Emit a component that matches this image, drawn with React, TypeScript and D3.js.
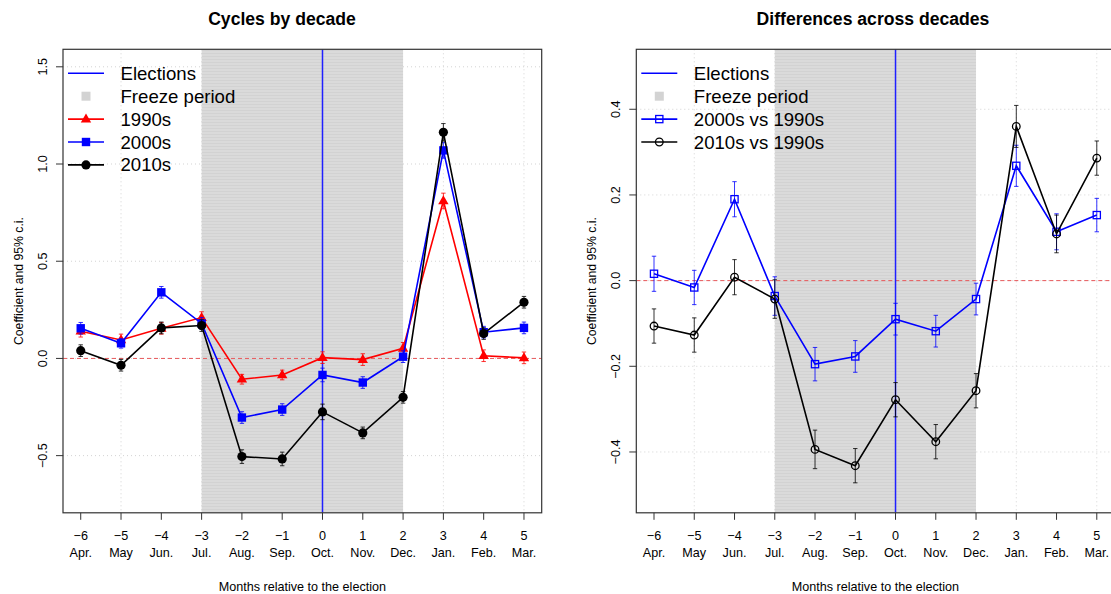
import React from "react";
import * as d3 from "d3";

// Months relative to the election and their calendar names
const months = [-6, -5, -4, -3, -2, -1, 0, 1, 2, 3, 4, 5];
const monthNames = ["Apr.", "May", "Jun.", "Jul.", "Aug.", "Sep.", "Oct.", "Nov.", "Dec.", "Jan.", "Feb.", "Mar."];

// Cycle coefficients by decade (left panel)
const coef1990s = [0.14, 0.095, 0.155, 0.21, -0.107, -0.085, 0.004, -0.006, 0.052, 0.81, 0.014, 0.003];
const ci1990s = [0.03, 0.03, 0.03, 0.03, 0.025, 0.025, 0.03, 0.03, 0.03, 0.04, 0.03, 0.03];
const coef2000s = [0.155, 0.078, 0.34, 0.18, -0.304, -0.263, -0.085, -0.124, 0.009, 1.07, 0.135, 0.157];
const ci2000s = [0.03, 0.025, 0.03, 0.03, 0.03, 0.03, 0.035, 0.03, 0.03, 0.04, 0.03, 0.03];
const coef2010s = [0.04, -0.035, 0.157, 0.169, -0.505, -0.517, -0.275, -0.383, -0.2, 1.163, 0.128, 0.289];
const ci2010s = [0.03, 0.03, 0.03, 0.03, 0.035, 0.035, 0.04, 0.03, 0.03, 0.045, 0.03, 0.03];

// Differences relative to the 1990s (right panel)
const diff2000s = [0.016, -0.016, 0.19, -0.036, -0.195, -0.177, -0.09, -0.118, -0.043, 0.268, 0.114, 0.153];
const ciDiff2000s = [0.041, 0.04, 0.041, 0.045, 0.039, 0.037, 0.037, 0.037, 0.037, 0.048, 0.042, 0.039];
const diff2010s = [-0.106, -0.127, 0.008, -0.043, -0.394, -0.432, -0.278, -0.376, -0.257, 0.36, 0.109, 0.286];
const ciDiff2010s = [0.04, 0.04, 0.041, 0.045, 0.045, 0.04, 0.04, 0.04, 0.04, 0.049, 0.044, 0.04];

const leftYTicks = [-0.5, 0, 0.5, 1.0, 1.5];
const rightYTicks = [-0.4, -0.2, 0, 0.2, 0.4];
const gridX = [-5, -3, -1, 1, 3, 5];
const freezeStart = -3;
const freezeEnd = 2;
const electionMonth = 0;

const FONT = "'Liberation Sans', Arial, Helvetica, sans-serif";
const fmt = (v: number) => d3.format(".1f")(v).replace("-", "\u2212");
const fmtInt = (v: number) => String(v).replace("-", "\u2212");

type Series = {
  values: number[];
  ci: number[];
  color: string;
  marker: "tri" | "sqFill" | "dot" | "sqOpen" | "ring";
  label: string;
};

function Marker({ kind, x, y, color }: { kind: Series["marker"]; x: number; y: number; color: string }) {
  switch (kind) {
    case "tri": {
      const s = 5.2;
      return <path d={`M${x},${y - s * 1.1}L${x + s},${y + s * 0.65}L${x - s},${y + s * 0.65}Z`} fill={color} />;
    }
    case "sqFill":
      return <rect x={x - 4.2} y={y - 4.2} width={8.4} height={8.4} fill={color} />;
    case "dot":
      return <circle cx={x} cy={y} r={4.6} fill={color} />;
    case "sqOpen":
      return <rect x={x - 3.6} y={y - 3.6} width={7.2} height={7.2} fill="none" stroke={color} strokeWidth={1.3} />;
    case "ring":
      return <circle cx={x} cy={y} r={3.8} fill="none" stroke={color} strokeWidth={1.3} />;
  }
}

type PanelProps = {
  id: string;
  left: number;
  right: number;
  yDomain: [number, number];
  yTicks: number[];
  title: string;
  titleX: number;
  yLabelX: number;
  yTickBaseline: number;
  series: Series[];
};

const TOP = 49.3;
const BOTTOM = 512.8;

function Panel(p: PanelProps) {
  const x = d3.scaleLinear().domain([-6.44, 5.44]).range([p.left, p.right]);
  const y = d3.scaleLinear().domain(p.yDomain).range([BOTTOM, TOP]);
  const line = d3
    .line<number>()
    .x((_, i) => x(months[i]))
    .y((v) => y(v));
  const clipId = `clip-${p.id}`;
  const midX = (p.left + p.right) / 2;
  const legendRows = [
    { kind: "line" as const, color: "#0000ff", label: "Elections" },
    { kind: "freeze" as const, color: "#d3d3d3", label: "Freeze period" },
    ...p.series.map((s) => ({ kind: "series" as const, color: s.color, label: s.label, marker: s.marker })),
  ];
  return (
    <g>
      <defs>
        <clipPath id={clipId}>
          <rect x={p.left} y={TOP} width={p.right - p.left} height={BOTTOM - TOP} />
        </clipPath>
      </defs>
      <text x={p.titleX} y={25} textAnchor="middle" fontFamily={FONT} fontWeight="bold" fontSize={17.6} fill="#000">
        {p.title}
      </text>

      <g clipPath={`url(#${clipId})`}>
        {/* dotted grid */}
        {gridX.map((g) => (
          <line key={`gx${g}`} x1={x(g)} x2={x(g)} y1={TOP} y2={BOTTOM} stroke="#d3d3d3" strokeDasharray="1,3" strokeWidth={1} />
        ))}
        {p.yTicks.map((t) => (
          <line key={`gy${t}`} x1={p.left} x2={p.right} y1={y(t)} y2={y(t)} stroke="#d3d3d3" strokeDasharray="1,3" strokeWidth={1} />
        ))}
        {/* freeze period */}
        <rect
          x={x(freezeStart)}
          y={TOP}
          width={x(freezeEnd) - x(freezeStart)}
          height={BOTTOM - TOP}
          fill="url(#freezeFill)"
        />
        {/* zero reference */}
        <line x1={p.left} x2={p.right} y1={y(0)} y2={y(0)} stroke="#e8585a" strokeWidth={1} strokeDasharray="4,3" />
        {/* election month */}
        <line x1={x(electionMonth)} x2={x(electionMonth)} y1={TOP} y2={BOTTOM} stroke="#1f1fff" strokeWidth={1.5} />

        {p.series.map((s, si) => (
          <g key={si}>
            <path d={line(s.values) || ""} fill="none" stroke={s.color} strokeWidth={1.6} />
            {s.values.map((v, i) => {
              const cx = x(months[i]);
              const lo = y(v - s.ci[i]);
              const hi = y(v + s.ci[i]);
              return (
                <g key={i} stroke={s.color} strokeWidth={1} strokeOpacity={0.8}>
                  <line x1={cx} x2={cx} y1={lo} y2={hi} />
                  <line x1={cx - 2.2} x2={cx + 2.2} y1={lo} y2={lo} />
                  <line x1={cx - 2.2} x2={cx + 2.2} y1={hi} y2={hi} />
                </g>
              );
            })}
            {s.values.map((v, i) => (
              <Marker key={`m${i}`} kind={s.marker} x={x(months[i])} y={y(v)} color={s.color} />
            ))}
          </g>
        ))}
      </g>

      {/* legend */}
      {legendRows.map((r, i) => {
        const ly = 73.3 + i * 22.9;
        const lx0 = p.left + 5;
        const lx1 = p.left + 41;
        const lm = (lx0 + lx1) / 2;
        return (
          <g key={`lg${i}`}>
            {r.kind === "freeze" ? (
              <rect x={lm - 4.5} y={ly - 4.5} width={9} height={9} fill={r.color} />
            ) : (
              <line x1={lx0} x2={lx1} y1={ly} y2={ly} stroke={r.color} strokeWidth={1.6} />
            )}
            {r.kind === "series" && <Marker kind={r.marker} x={lm} y={ly} color={r.color} />}
            <text x={p.left + 57.5} y={ly + 6.5} fontFamily={FONT} fontSize={18.6} fill="#000">
              {r.label}
            </text>
          </g>
        );
      })}

      {/* frame */}
      <rect x={p.left} y={TOP} width={p.right - p.left} height={BOTTOM - TOP} fill="none" stroke="#333" strokeWidth={1.2} />

      {/* x axis */}
      {months.map((m, i) => (
        <g key={`xt${m}`}>
          <line x1={x(m)} x2={x(m)} y1={BOTTOM} y2={BOTTOM + 7} stroke="#333" strokeWidth={1} />
          <text x={x(m)} y={539.5} textAnchor="middle" fontFamily={FONT} fontSize={12.6} fill="#000">
            {fmtInt(m)}
          </text>
          <text x={x(m)} y={556.5} textAnchor="middle" fontFamily={FONT} fontSize={12.6} fill="#000">
            {monthNames[i]}
          </text>
        </g>
      ))}
      <text x={midX} y={590.5} textAnchor="middle" fontFamily={FONT} fontSize={12.6} fill="#000">
        Months relative to the election
      </text>

      {/* y axis */}
      {p.yTicks.map((t) => (
        <g key={`yt${t}`}>
          <line x1={p.left - 7} x2={p.left} y1={y(t)} y2={y(t)} stroke="#333" strokeWidth={1} />
          <text
            transform={`translate(${p.yTickBaseline},${y(t)}) rotate(-90)`}
            textAnchor="middle"
            fontFamily={FONT}
            fontSize={12.6}
            fill="#000"
          >
            {fmt(t)}
          </text>
        </g>
      ))}
      <text
        transform={`translate(${p.yLabelX},${(TOP + BOTTOM) / 2}) rotate(-90)`}
        textAnchor="middle"
        fontFamily={FONT}
        fontSize={12.2}
        fill="#000"
      >
        Coefficient and 95% c.i.
      </text>
    </g>
  );
}

export default function App() {
  const leftSeries: Series[] = [
    { values: coef1990s, ci: ci1990s, color: "#ff0000", marker: "tri", label: "1990s" },
    { values: coef2000s, ci: ci2000s, color: "#0000ff", marker: "sqFill", label: "2000s" },
    { values: coef2010s, ci: ci2010s, color: "#000000", marker: "dot", label: "2010s" },
  ];
  const rightSeries: Series[] = [
    { values: diff2000s, ci: ciDiff2000s, color: "#0000ff", marker: "sqOpen", label: "2000s vs 1990s" },
    { values: diff2010s, ci: ciDiff2010s, color: "#000000", marker: "ring", label: "2010s vs 1990s" },
  ];
  return (
    <svg width={1111} height={594} style={{ position: "absolute", left: 0, top: 0, background: "#fff" }}>
      <defs>
        <pattern id="freezeFill" patternUnits="userSpaceOnUse" width={8} height={3}>
          <rect width={8} height={3} fill="#dadada" />
          <rect y={2} width={8} height={1} fill="#d2d2d2" />
        </pattern>
      </defs>
      <rect width={1111} height={594} fill="#fff" />
      <Panel
        id="left"
        left={63}
        right={541.7}
        yDomain={[-0.794, 1.59]}
        yTicks={leftYTicks}
        title="Cycles by decade"
        titleX={282}
        yLabelX={22.5}
        yTickBaseline={46.5}
        series={leftSeries}
      />
      <Panel
        id="right"
        left={636.3}
        right={1114.5}
        yDomain={[-0.542, 0.54]}
        yTicks={rightYTicks}
        title="Differences across decades"
        titleX={873}
        yLabelX={596}
        yTickBaseline={620}
        series={rightSeries}
      />
    </svg>
  );
}
